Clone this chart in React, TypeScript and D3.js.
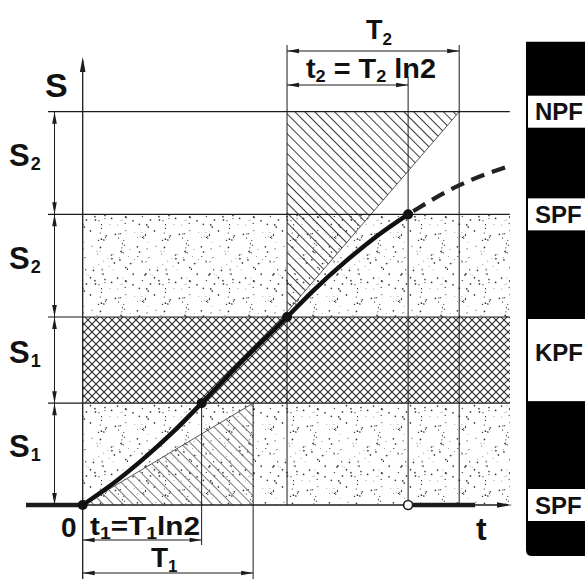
import React from 'react';
import * as d3 from 'd3';

const W = 585;
const H = 579;
const FONT = '"Liberation Sans", Arial, Helvetica, sans-serif';

// S levels that bound the bands (0, S1, 2S1, 2S1+S2, 2S1+2S2), chart units
const levelValues = [0, 25.9, 47.8, 73.9, 100];
const bandFills = ['stipple', 'cross', 'stipple', 'blank'];
const bandMain = ['S', 'S', 'S', 'S'];
const bandSub = ['1', '1', '2', '2'];

// time marks: t1, T1, start of second stage, t2 end, T2 end
const t1Time = 27.7;
const T1Time = 39.7;
const stage2Time = 47.6;
const t2Time = 75.8;
const T2Time = 87.7;
const bandEndTime = 99.5;
const runEndTime = 91.4;

// growth curve S(t)
const curveTime = [0, 7, 14, 21, 27.7, 37.7, 47.6, 53.6, 61.3, 68.8, 75.8];
const curveS = [0, 5.4, 11.6, 18.5, 25.9, 37.2, 47.8, 54.4, 62.0, 68.6, 73.9];
// extrapolated part (dashed)
const extraTime = [75.8, 87.9, 98.8];
const extraS = [73.9, 81.4, 86.0];

// marked points on the curve
const pointTime = [0, 27.7, 47.6, 75.8];
const pointS = [0, 25.9, 47.8, 73.9];

// tangents bounding the hatched triangles
const tangentLowTime = [0, 39.7];
const tangentLowS = [0, 25.9];
const tangentHighTime = [47.6, 87.7];
const tangentHighS = [49.1, 100];

// state column
const stateLabels = ['NPF', 'SPF', 'KPF', 'SPF'];
const stateFrom = [100, 73.9, 47.8, 0];
const stateTo = [100, 73.9, 25.9, 0];

const ink = '#1c1c1c';

function arrow(tx: number, ty: number, dir: string, len = 12, half = 2.3) {
  let pts: number[][] = [];
  if (dir === 'up') pts = [[tx, ty], [tx - half, ty + len], [tx + half, ty + len]];
  if (dir === 'down') pts = [[tx, ty], [tx - half, ty - len], [tx + half, ty - len]];
  if (dir === 'left') pts = [[tx, ty], [tx + len, ty - half], [tx + len, ty + half]];
  if (dir === 'right') pts = [[tx, ty], [tx - len, ty - half], [tx - len, ty + half]];
  return <polygon points={pts.map(p => p.join(',')).join(' ')} fill={ink} />;
}

function HDim({ x0, x1, yy }: { x0: number; x1: number; yy: number }) {
  return (
    <g>
      <line x1={x0} x2={x1} y1={yy} y2={yy} stroke={ink} strokeWidth={1} />
      {arrow(x0, yy, 'left')}
      {arrow(x1, yy, 'right')}
    </g>
  );
}

export default function App() {
  const x = d3.scaleLinear().domain([0, 100]).range([82.7, 512]);
  const y = d3.scaleLinear().domain([0, 100]).range([505, 111.7]);

  const line = d3
    .line<number>()
    .x(i => x(curveTime[i]))
    .y(i => y(curveS[i]))
    .curve(d3.curveMonotoneX);
  const extraLine = d3
    .line<number>()
    .x(i => x(extraTime[i]))
    .y(i => y(extraS[i]))
    .curve(d3.curveMonotoneX);

  // stipple texture: deterministic low-discrepancy dots
  const tile = 64;
  const dots = d3.range(100).map(i => ({
    cx: ((i * 0.7548776662 + 0.31 * Math.sin(i * 12.9898)) % 1 + 1) % 1 * tile,
    cy: ((i * 0.5698402910 + 0.27 * Math.sin(i * 78.233)) % 1 + 1) % 1 * tile,
    r: 0.45 + (i % 3) * 0.2,
  }));

  const xL = 48;
  const xR = x(bandEndTime);
  const lowTri = [
    [x(tangentLowTime[0]), y(tangentLowS[0])],
    [x(tangentLowTime[1]), y(0)],
    [x(tangentLowTime[1]), y(tangentLowS[1])],
  ];
  const highTri = [
    [x(tangentHighTime[0]), y(tangentHighS[0])],
    [x(tangentHighTime[0]), y(100)],
    [x(tangentHighTime[1]), y(tangentHighS[1])],
  ];
  const poly = (p: number[][]) => p.map(q => q.join(',')).join(' ');

  return (
    <svg width={W} height={H} style={{ position: 'absolute', left: 0, top: 0, background: '#fff' }} fontFamily={FONT}>
      <defs>
        <pattern id="stipple" width={tile} height={tile} patternUnits="userSpaceOnUse">
          {dots.map((d, i) => (
            <circle key={i} cx={d.cx} cy={d.cy} r={d.r} fill="#3a3a3a" />
          ))}
        </pattern>
        <pattern id="cross" width={8} height={8} patternUnits="userSpaceOnUse">
          <path d="M-1,-1L9,9M9,-1L-1,9" stroke="#262626" strokeWidth={1.1} />
        </pattern>
        <pattern id="hatch" width={7} height={7} patternUnits="userSpaceOnUse" patternTransform="rotate(-45)">
          <line x1={3.5} x2={3.5} y1={0} y2={7} stroke="#3a3a3a" strokeWidth={1} />
        </pattern>
        <pattern id="hatchLight" width={7} height={7} patternUnits="userSpaceOnUse" patternTransform="rotate(-45)">
          <line x1={3.5} x2={3.5} y1={0} y2={7} stroke="#6a6a6a" strokeWidth={0.9} />
        </pattern>
      </defs>

      {/* bands */}
      {bandFills.map((f, i) =>
        f === 'blank' ? null : (
          <rect
            key={i}
            x={x(0)}
            y={y(levelValues[i + 1])}
            width={xR - x(0)}
            height={y(levelValues[i]) - y(levelValues[i + 1])}
            fill={`url(#${f})`}
          />
        )
      )}

      {/* hatched triangles */}
      <polygon points={poly(lowTri)} fill="url(#hatchLight)" />
      <polygon points={poly(highTri)} fill="url(#hatch)" />
      <line x1={lowTri[0][0]} y1={lowTri[0][1]} x2={lowTri[2][0]} y2={lowTri[2][1]} stroke="#444" strokeWidth={0.9} />
      <line x1={highTri[0][0]} y1={highTri[0][1]} x2={highTri[2][0]} y2={highTri[2][1]} stroke="#444" strokeWidth={0.9} />

      {/* horizontal level lines */}
      {levelValues.slice(1).map((v, i) => (
        <line key={i} x1={xL} x2={xR} y1={y(v)} y2={y(v)} stroke={ink} strokeWidth={1.2} />
      ))}

      {/* vertical guide lines */}
      <line x1={x(stage2Time)} x2={x(stage2Time)} y1={45} y2={y(0)} stroke={ink} strokeWidth={1} />
      <line x1={x(T2Time)} x2={x(T2Time)} y1={45} y2={y(0)} stroke={ink} strokeWidth={1} />
      <line x1={x(t2Time)} x2={x(t2Time)} y1={77} y2={y(0)} stroke={ink} strokeWidth={1} />
      <line x1={x(t1Time)} x2={x(t1Time)} y1={y(levelValues[1])} y2={545} stroke={ink} strokeWidth={1} />
      <line x1={x(T1Time)} x2={x(T1Time)} y1={y(levelValues[1])} y2={H} stroke={ink} strokeWidth={1} />

      {/* S axis */}
      <line x1={x(0)} x2={x(0)} y1={60} y2={H} stroke={ink} strokeWidth={1.3} />
      {arrow(x(0), 57, 'up', 15, 2.8)}
      {/* t axis */}
      <line x1={x(0)} x2={x(100) - 4} y1={y(0)} y2={y(0)} stroke={ink} strokeWidth={1.3} />
      {arrow(x(100), y(0), 'right', 15, 2.8)}
      <line x1={26} x2={x(0)} y1={y(0)} y2={y(0)} stroke={ink} strokeWidth={4.5} />
      <line x1={x(t2Time)} x2={x(runEndTime)} y1={y(0)} y2={y(0)} stroke={ink} strokeWidth={4.5} />

      {/* left dimension */}
      <line x1={54.5} x2={54.5} y1={y(100)} y2={y(0)} stroke={ink} strokeWidth={1} />
      {bandMain.map((_, i) => (
        <g key={i}>
          {arrow(54.5, y(levelValues[i]), 'down')}
          {arrow(54.5, y(levelValues[i + 1]), 'up')}
        </g>
      ))}
      {bandMain.map((m, i) => {
        const mid = (y(levelValues[i]) + y(levelValues[i + 1])) / 2;
        return (
          <text key={i} x={9} y={mid + 3} fontSize={31} fontWeight="bold" fill="#111">
            {m}
            <tspan fontSize={18} dy={4} dx={1}>{bandSub[i]}</tspan>
          </text>
        );
      })}

      {/* top dimensions */}
      <HDim x0={x(stage2Time)} x1={x(T2Time)} yy={51} />
      <HDim x0={x(stage2Time)} x1={x(t2Time)} yy={85} />
      {/* bottom dimensions */}
      <HDim x0={x(0)} x1={x(t1Time)} yy={540} />
      <HDim x0={x(0)} x1={x(T1Time)} yy={573} />

      {/* curve */}
      <path d={line(d3.range(curveTime.length)) || ''} fill="none" stroke="#111" strokeWidth={4.5} strokeLinecap="round" />
      <path
        d={extraLine(d3.range(extraTime.length)) || ''}
        fill="none"
        stroke="#222"
        strokeWidth={4.2}
        strokeDasharray="14 8"
        strokeDashoffset={-6}
      />
      {pointTime.map((t, i) => (
        <circle key={i} cx={x(t)} cy={y(pointS[i])} r={5} fill="#111" />
      ))}
      <circle cx={x(t2Time)} cy={y(0)} r={4.5} fill="#fff" stroke={ink} strokeWidth={1.6} />

      {/* labels */}
      <text x={45} y={97} fontSize={34} fontWeight="bold" fill="#111">S</text>
      <text x={476} y={540} fontSize={32} fontWeight="bold" fill="#111">t</text>
      <text x={61} y={537} fontSize={28} fontWeight="bold" fill="#111">0</text>
      <text x={366} y={39} fontSize={27} fontWeight="bold" fill="#111">
        T<tspan fontSize={17} dy={6}>2</tspan>
      </text>
      <text x={306} y={78} fontSize={27} fontWeight="bold" fill="#111" textLength={130} lengthAdjust="spacingAndGlyphs">
        t<tspan fontSize={17} dy={4}>2</tspan>
        <tspan dy={-4}> = T</tspan>
        <tspan fontSize={17} dy={4}>2</tspan>
        <tspan dy={-4}> ln2</tspan>
      </text>
      <text x={90} y={535} fontSize={26} fontWeight="bold" fill="#111" textLength={110} lengthAdjust="spacingAndGlyphs">
        t<tspan fontSize={17} dy={4}>1</tspan>
        <tspan dy={-4}>=T</tspan>
        <tspan fontSize={17} dy={4}>1</tspan>
        <tspan dy={-4}>ln2</tspan>
      </text>
      <text x={151} y={567} fontSize={28} fontWeight="bold" fill="#111">
        T<tspan fontSize={17} dy={5}>1</tspan>
      </text>

      {/* state column */}
      <path d={`M526,41.7H${W + 5}V556H532Q526,556 526,550Z`} fill="#000" />
      {stateLabels.map((s, i) => {
        const single = stateFrom[i] === stateTo[i];
        const top = single ? y(stateFrom[i]) - 16 : y(stateFrom[i]) + 2;
        const bot = single ? y(stateTo[i]) + 16 : y(stateTo[i]) - 2;
        const c = (top + bot) / 2;
        return (
          <g key={i}>
            <rect x={528} y={top} width={W} height={bot - top} fill="#fff" />
            <text x={535} y={single ? c + 8.5 : c + 1} fontSize={24} fontWeight="bold" fill="#111">
              {s}
            </text>
          </g>
        );
      })}
    </svg>
  );
}
